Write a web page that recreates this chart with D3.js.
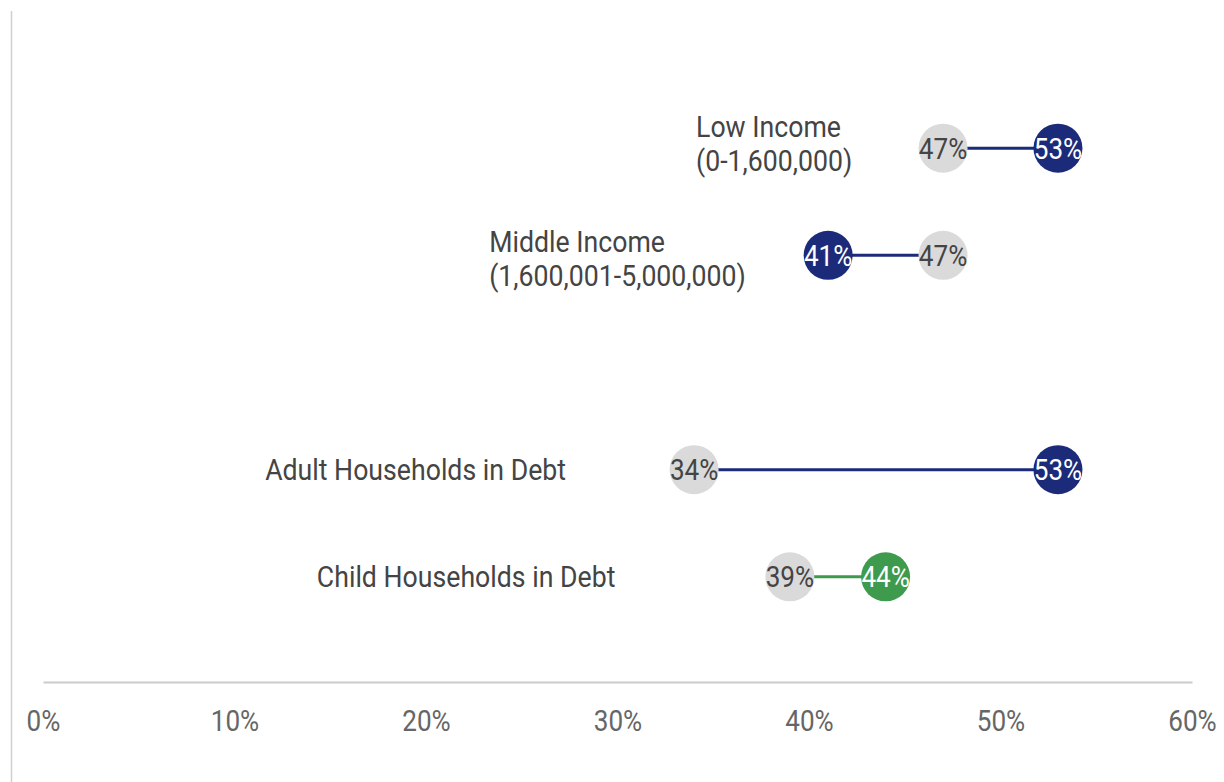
<!DOCTYPE html>
<html>
<head>
<meta charset="utf-8">
<script src="https://cdn.jsdelivr.net/npm/d3@7"></script>
<style>
  html, body { margin: 0; padding: 0; background: #fff; }
  svg { display: block; }
  text { font-family: Roboto, "Noto Sans", sans-serif; }
</style>
</head>
<body>
<svg id="chart" width="1224" height="782"></svg>
<script>
// Household groups (label lines), with an empty slot separating the two blocks
const groups = ["low", "middle", "gap", "adult", "child"];
const groupLabels = [
  ["Low Income", "(0-1,600,000)"],
  ["Middle Income", "(1,600,001-5,000,000)"],
  [],
  ["Adult Households in Debt"],
  ["Child Households in Debt"]
];
// Highlighted value and comparison value (percent) per group
const highlightValues = [53, 41, null, 53, 44];
const compareValues   = [47, 47, null, 34, 39];
const highlightColors = ["#1b2b7a", "#1b2b7a", null, "#1b2b7a", "#3e9a4c"];
const xTicks = [0, 10, 20, 30, 40, 50, 60];

const W = 1224, H = 782;
const SX_LABEL = 0.92; // horizontal squeeze for a condensed look
const SX_NUM = 0.9;
const svg = d3.select("#chart");

const x = d3.scaleLinear().domain([0, 60]).range([43, 1192]);
const y = d3.scalePoint().domain(groups).range([41, 684]).padding(1);

// left rule
svg.append("line")
  .attr("x1", 11.5).attr("x2", 11.5).attr("y1", 11).attr("y2", H)
  .attr("stroke", "#cfcfcf").attr("stroke-width", 1.5);

// x axis
const axis = svg.append("g")
  .attr("transform", "translate(0,682)")
  .call(d3.axisBottom(x).tickValues(xTicks).tickFormat(d => d + "%").tickSize(0).tickPadding(28));
axis.select(".domain").attr("stroke", "#cccccc").attr("stroke-width", 2);
axis.selectAll(".tick text")
  .attr("fill", "#666")
  .style("font-size", "29px")
  .attr("transform", `scale(${SX_NUM},1)`);

const rows = groups.map((g, i) => ({
  key: g, label: groupLabels[i], hi: highlightValues[i], cmp: compareValues[i], color: highlightColors[i]
})).filter(d => d.hi != null);

// label placement: left edge (axis units) and vertical nudge (px)
const labelStart = { low: 34.1, middle: 23.3, adult: 11.6, child: 14.3 };
const labelNudge = { low: -3, middle: 5, adult: 0, child: 0 };

const row = svg.selectAll("g.row").data(rows).join("g")
  .attr("class", "row")
  .attr("transform", d => `translate(0,${y(d.key)})`);

// connector
row.append("line")
  .attr("x1", d => x(d.cmp)).attr("x2", d => x(d.hi))
  .attr("stroke", d => d.color).attr("stroke-width", 3);

// comparison dot
row.append("circle")
  .attr("cx", d => x(d.cmp)).attr("r", 24.5).attr("fill", "#dadada");
row.append("g")
  .attr("transform", d => `translate(${x(d.cmp)},0) scale(${SX_NUM},1)`)
  .append("text")
  .attr("text-anchor", "middle").attr("dy", "0.36em")
  .style("font-size", "29px").attr("fill", "#444")
  .text(d => d.cmp + "%");

// highlighted dot
row.append("circle")
  .attr("cx", d => x(d.hi)).attr("r", 24.5).attr("fill", d => d.color);
row.append("g")
  .attr("transform", d => `translate(${x(d.hi)},0) scale(${SX_NUM},1)`)
  .append("text")
  .attr("text-anchor", "middle").attr("dy", "0.36em")
  .style("font-size", "29px").attr("fill", "#fff")
  .text(d => d.hi + "%");

// group labels
row.each(function(d) {
  const g = d3.select(this).append("g")
    .attr("transform", `translate(${x(labelStart[d.key])},${labelNudge[d.key]}) scale(${SX_LABEL},1)`);
  const n = d.label.length;
  const lh = 34;
  d.label.forEach((line, j) => {
    g.append("text")
      .attr("x", 0)
      .attr("y", (j - (n - 1) / 2) * lh - (n > 1 ? 2 : 0))
      .attr("dy", "0.36em")
      .style("font-size", "29px")
      .attr("fill", "#444")
      .text(line);
  });
});
</script>
</body>
</html>
